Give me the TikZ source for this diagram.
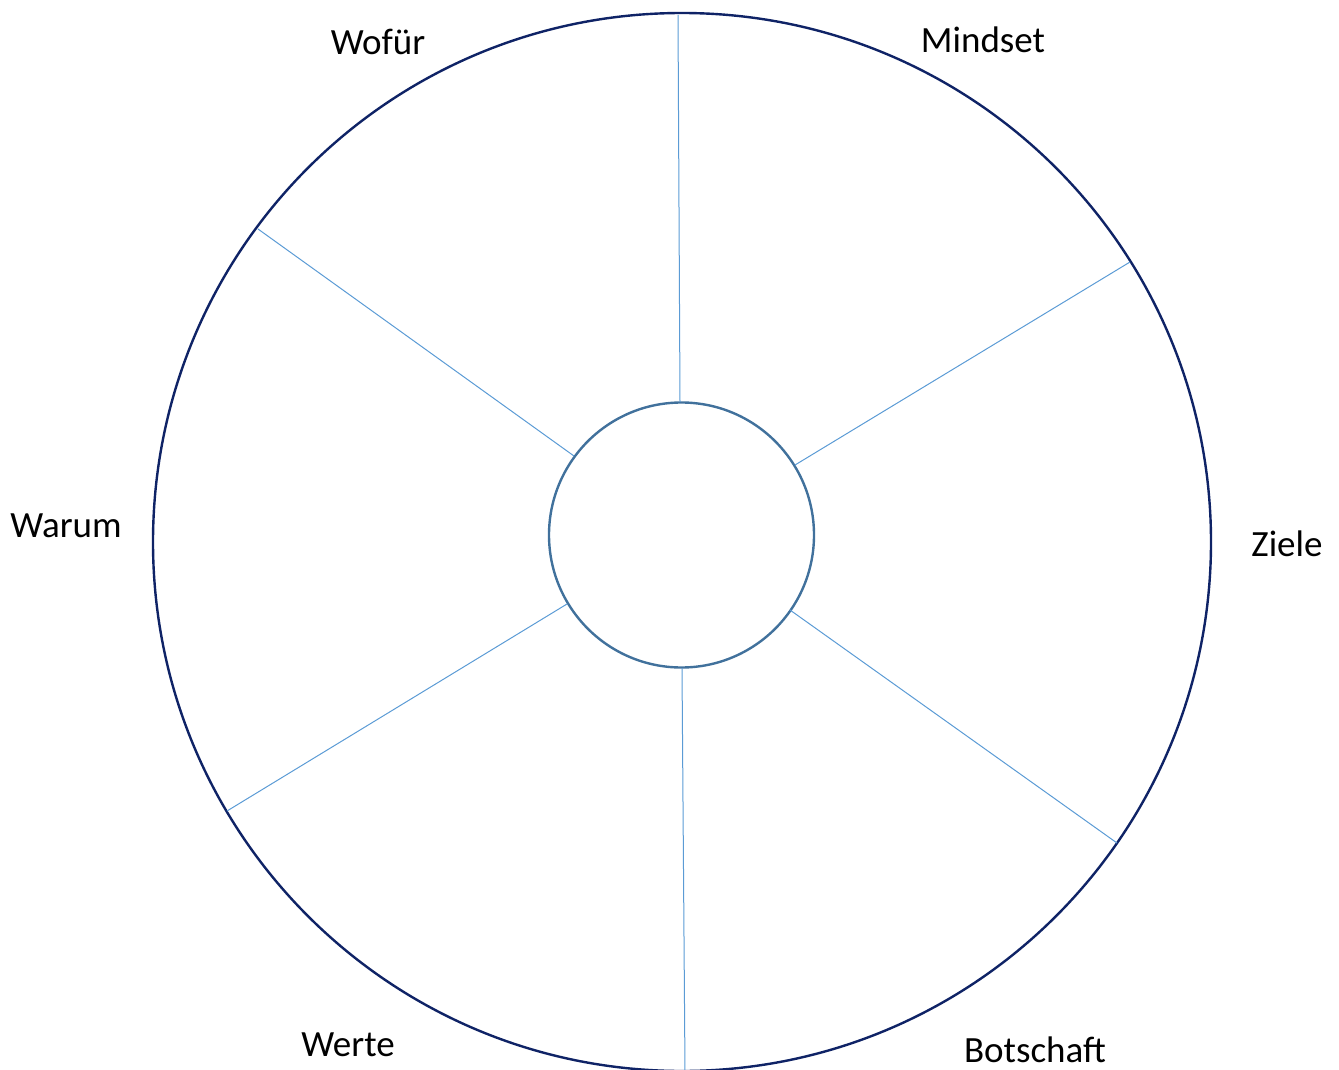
\documentclass[tikz,border=0pt]{standalone}
\usepackage{fontspec}
\setmainfont{Carlito}
\definecolor{outerc}{HTML}{0F2366}
\definecolor{innerc}{HTML}{41719C}
\definecolor{spokec}{HTML}{5B9BD5}
\begin{document}
\begin{tikzpicture}[x=1pt,y=-1pt,
  lbl/.style={anchor=base,font=\fontsize{37}{42}\selectfont,inner sep=0pt},
  spoke/.style={draw=spokec,line width=1pt}]
\useasboundingbox (0,0) rectangle (1339,1070);
\begin{scope}
\clip (0,0) rectangle (1339,1070);
\node[circle,draw=outerc,line width=2.4pt,minimum size=1058pt,inner sep=0pt] (outer) at (682,542) {};
\node[circle,draw=innerc,line width=2.4pt,minimum size=265pt,inner sep=0pt] (inner) at (681.5,535) {};
\coordinate (o1) at (678,15);
\coordinate (o2) at (1130,262);
\coordinate (o3) at (1117,843);
\coordinate (o4) at (685,1072);
\coordinate (o5) at (227,811);
\coordinate (o6) at (258,229);
\coordinate (i1) at (680,402);
\coordinate (i2) at (795,465);
\coordinate (i3) at (790,610);
\coordinate (i4) at (682,668);
\coordinate (i5) at (567,604);
\coordinate (i6) at (574,456);
\foreach \k in {1,...,6} {\draw[spoke] (i\k) -- (o\k);}
\end{scope}
\node[lbl] (mindset) at (983,53) {Mindset};
\node[lbl] (wofuer) at (378,55) {Wofür};
\node[lbl] (warum) at (66,537) {Warum};
\node[lbl] (ziele) at (1287,556) {Ziele};
\node[lbl] (botschaft) at (1035,1062) {Botschaft};
\node[lbl] (werte) at (348,1056) {Werte};
\end{tikzpicture}
\end{document}
